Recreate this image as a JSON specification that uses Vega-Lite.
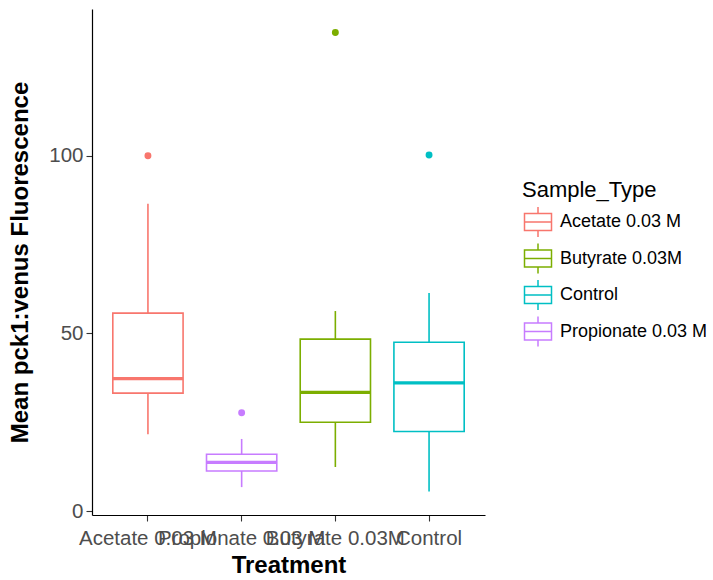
{
  "$schema": "https://vega.github.io/schema/vega-lite/v6.json",
  "autosize": "none",
  "width": 393,
  "height": 506,
  "padding": {"left": 92, "top": 9, "right": 228, "bottom": 65},
  "background": "white",
  "config": {
    "font": "Liberation Sans",
    "view": {"stroke": null},
    "axis": {
      "grid": false,
      "domainColor": "black",
      "domainWidth": 1.2,
      "tickColor": "#333333",
      "tickWidth": 1.1,
      "tickSize": 6,
      "labelFont": "Liberation Sans",
      "labelFontSize": 20.5,
      "labelColor": "#4D4D4D",
      "titleFont": "Liberation Sans",
      "titleFontSize": 24,
      "titleFontWeight": "bold",
      "titleColor": "black"
    }
  },
  "data": {
    "values": [
      {"Treatment": "Acetate 0.03 M", "Sample_Type": "Acetate 0.03 M", "lower": 21.6, "q1": 33.2, "median": 37.3, "q3": 55.7, "upper": 86.5, "outlier": 100.0},
      {"Treatment": "Propionate 0.03 M", "Sample_Type": "Propionate 0.03 M", "lower": 6.75, "q1": 11.3, "median": 13.7, "q3": 16.0, "upper": 20.3, "outlier": 27.7},
      {"Treatment": "Butyrate 0.03M", "Sample_Type": "Butyrate 0.03M", "lower": 12.4, "q1": 25.0, "median": 33.4, "q3": 48.4, "upper": 56.3, "outlier": 134.7},
      {"Treatment": "Control", "Sample_Type": "Control", "lower": 5.5, "q1": 22.4, "median": 36.1, "q3": 47.5, "upper": 61.4, "outlier": 100.2}
    ]
  },
  "encoding": {
    "x": {
      "field": "Treatment",
      "type": "nominal",
      "sort": ["Acetate 0.03 M", "Propionate 0.03 M", "Butyrate 0.03M", "Control"],
      "scale": {"paddingInner": 0.25, "paddingOuter": 0.222},
      "axis": {
        "title": "Treatment",
        "labelAngle": 0,
        "labelOverlap": false,
        "labelFlush": false,
        "labelPadding": 7,
        "bandPosition": 0.5,
        "titlePadding": 5
      }
    },
    "stroke": {
      "field": "Sample_Type",
      "type": "nominal",
      "scale": {
        "domain": ["Acetate 0.03 M", "Butyrate 0.03M", "Control", "Propionate 0.03 M"],
        "range": ["#F8766D", "#7CAE00", "#00BFC4", "#C77CFF"]
      },
      "legend": {
        "title": "Sample_Type",
        "orient": "none",
        "legendX": 430,
        "legendY": 171,
        "padding": 0,
        "titleFontSize": 22,
        "titleFontWeight": "normal",
        "titleColor": "black",
        "titlePadding": 4,
        "labelFontSize": 18,
        "labelColor": "black",
        "labelOffset": 6,
        "rowPadding": 0.5,
        "symbolType": "M-0.9,-0.57H0.9V0.57H-0.9Z M-0.9,0H0.9 M0,-0.57V-1 M0,0.57V1",
        "symbolSize": 900,
        "symbolStrokeWidth": 1.5,
        "symbolFillColor": "white"
      }
    }
  },
  "layer": [
    {
      "mark": {"type": "rule", "strokeWidth": 1.6},
      "encoding": {
        "y": {
          "field": "upper",
          "type": "quantitative",
          "scale": {"domain": [-1.1, 141.3], "nice": false, "zero": false},
          "axis": {
            "title": "Mean pck1:venus Fluorescence",
            "values": [0, 50, 100],
            "labelPadding": 3,
            "titlePadding": 16
          }
        },
        "y2": {"field": "lower"}
      }
    },
    {
      "mark": {"type": "bar", "fill": "white", "strokeWidth": 1.6},
      "encoding": {
        "y": {"field": "q1", "type": "quantitative"},
        "y2": {"field": "q3"}
      }
    },
    {
      "mark": {"type": "bar", "fill": "white", "strokeWidth": 3.2},
      "encoding": {
        "y": {"field": "median", "type": "quantitative"},
        "y2": {"field": "median"}
      }
    },
    {
      "mark": {"type": "point", "shape": "circle", "filled": false, "size": 48, "strokeWidth": 0, "opacity": 1, "fill": {"expr": "scale('stroke', datum.Sample_Type)"}, "fillOpacity": 1},
      "encoding": {
        "y": {"field": "outlier", "type": "quantitative"}
      }
    }
  ]
}
